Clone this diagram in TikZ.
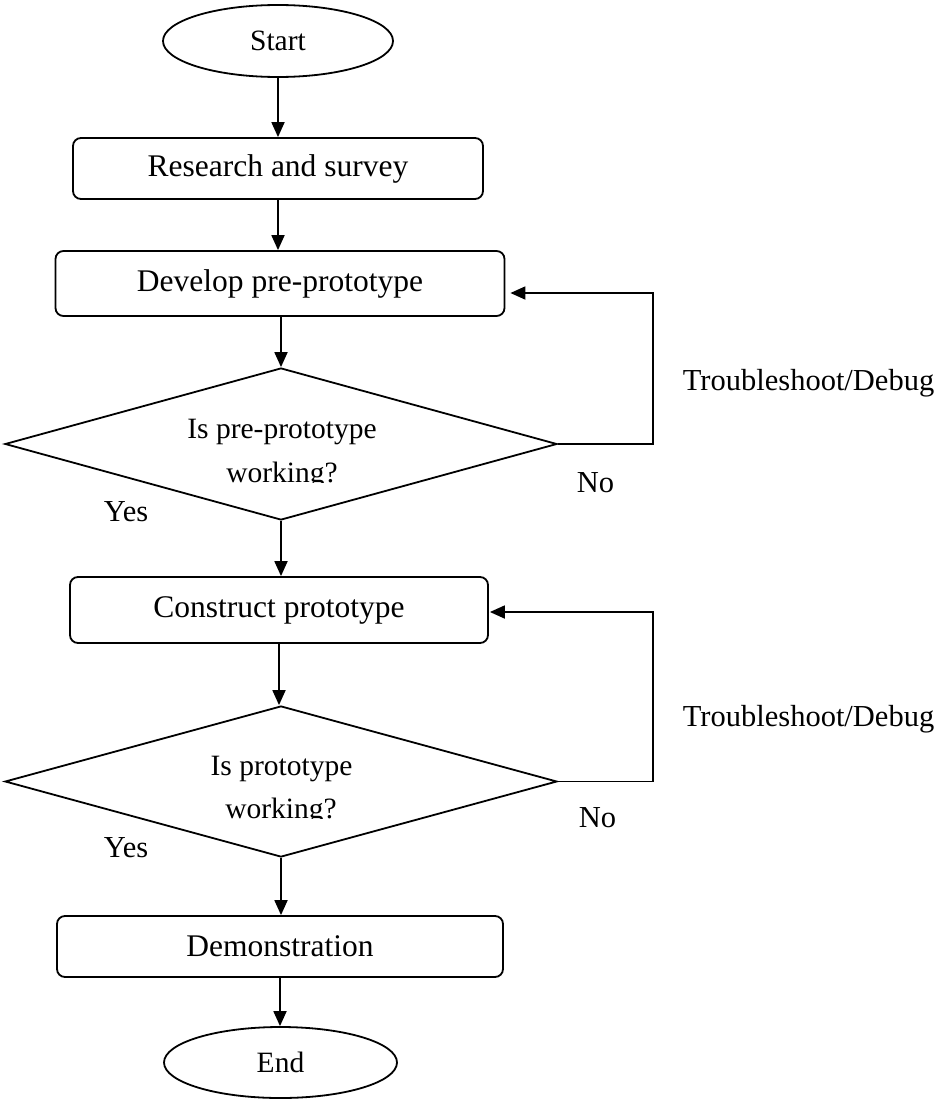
\documentclass[tikz,border=0pt]{standalone}
\usepackage{fontspec}
\setmainfont{Liberation Serif}
\usetikzlibrary{shapes.geometric,arrows.meta}
\begin{document}
\begin{tikzpicture}[x=1pt,y=-1pt,
  line width=1.8pt,
  term/.style={ellipse,draw,inner sep=0pt,font=\fontsize{29.5}{34}\selectfont},
  proc/.style={draw,rounded corners=8pt,inner sep=0pt,font=\fontsize{31.5}{36}\selectfont},
  dec/.style={diamond,draw,inner sep=0pt,aspect=1},
  lbl/.style={inner sep=0pt,anchor=base west,font=\fontsize{30.5}{35}\selectfont},
  dtxt/.style={inner sep=0pt,anchor=base,font=\fontsize{29.5}{34}\selectfont},
  arr/.style={-{Triangle[length=15pt,width=13pt]}}]
\useasboundingbox (0,0) rectangle (943,1100);

\node[term,minimum width=230pt,minimum height=72pt] (start) at (278,41) {Start};
\node[proc,minimum width=410pt,minimum height=61pt] (research) at (278,168.5) {Research and survey};
\node[proc,minimum width=449pt,minimum height=65pt] (develop) at (280,283.5) {Develop pre-prototype};
\node[dec,minimum width=552pt,minimum height=152pt] (d1) at (281,444) {};
\node[proc,minimum width=418pt,minimum height=66pt] (construct) at (279,610) {Construct prototype};
\node[dec,minimum width=552pt,minimum height=151pt] (d2) at (281,781.5) {};
\node[proc,minimum width=446pt,minimum height=61pt] (demo) at (280,946.5) {Demonstration};
\node[term,minimum width=233pt,minimum height=71pt] (end) at (280.5,1062.5) {End};

% decision texts (second line clipped as in the reference)
\node[dtxt] (q1a) at (282,438) {Is pre-prototype};
\begin{scope}
\clip (150,440) rectangle (420,482);
\node[dtxt] (q1b) at (282,482) {working?};
\end{scope}
\node[dtxt] (q2a) at (281.5,775) {Is prototype};
\begin{scope}
\clip (150,777) rectangle (420,818);
\node[dtxt] (q2b) at (281,818) {working?};
\end{scope}

% main flow
\draw[arr] (start.south) -- (start.south |- research.north);
\draw[arr] (research.south) -- (research.south |- develop.north);
\draw[arr] (develop.south -| d1.north) -- (d1.north);
\draw[arr] (d1.south) -- (d1.south |- construct.north);
\draw[arr] (construct.south) -- (construct.south |- d2.north);
\draw[arr] (d2.south) -- (d2.south |- demo.north);
\draw[arr] (demo.south) -- (demo.south |- end.north);

% feedback loops
\draw[arr] (d1.east) -- ++(95,0) |- ([xshift=5pt,yshift=-9.5pt]develop.east);
\draw[arr] (d2.east) -- ++(95,0) |- ([xshift=1pt,yshift=-2pt]construct.east);

% labels
\node[lbl] (tb1) at (682,390) {Troubleshoot/Debug};
\node[lbl] (tb2) at (682,726) {Troubleshoot/Debug};
\node[lbl] (no1) at (576,492) {No};
\node[lbl] (no2) at (578,827) {No};
\node[lbl] (yes1) at (103,521) {Yes};
\node[lbl] (yes2) at (103,857) {Yes};
\end{tikzpicture}
\end{document}
